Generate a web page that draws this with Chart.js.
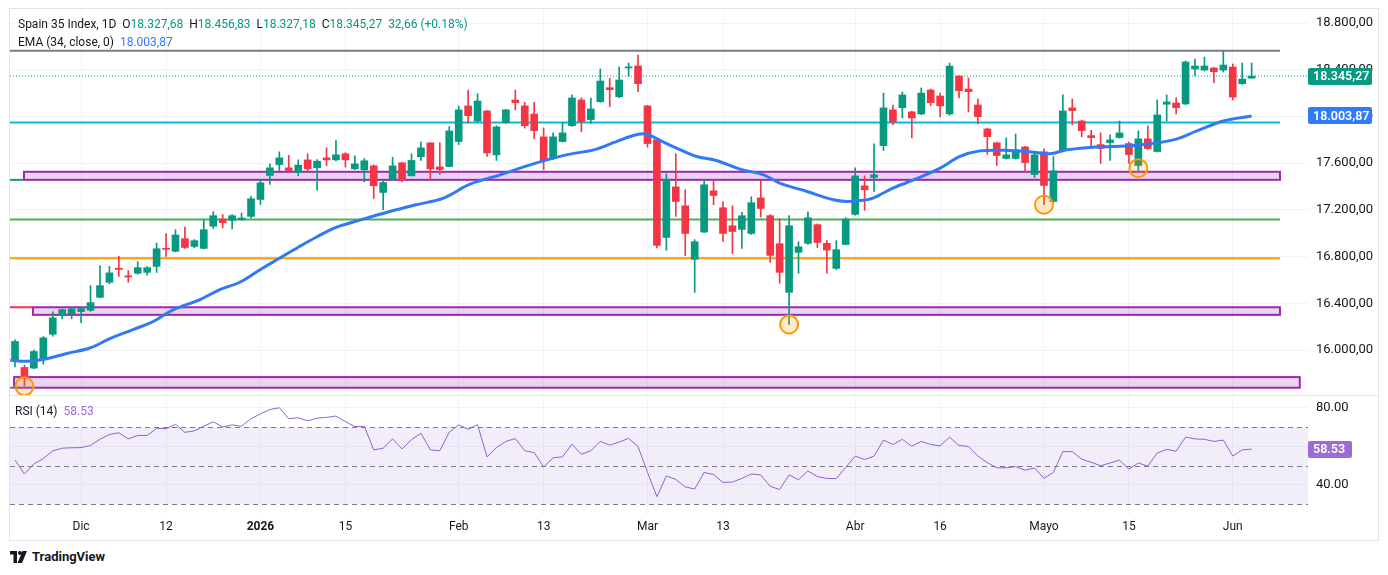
<!DOCTYPE html>
<html>
<head>
<meta charset="utf-8">
<script src="https://cdn.jsdelivr.net/npm/chart.js@4.4.1/dist/chart.umd.min.js"></script>
<style>
  html, body { margin: 0; padding: 0; background: #fff; }
  body { width: 1388px; height: 575px; position: relative; overflow: hidden; font-family: Roboto, "Noto Sans", sans-serif; color: #131722; }
  canvas { position: absolute; left: 0; }
  #main { top: 0; }
  #rsi { top: 396px; }
  #frame { position: absolute; left: 9px; top: 8px; width: 1370px; height: 533px; border: 1px solid #e0e3eb; box-sizing: border-box; pointer-events: none; }
  #sep { position: absolute; left: 10px; top: 395px; width: 1368px; height: 1px; background: #e0e3eb; }
  .legend { position: absolute; left: 18px; font-size: 12px; white-space: pre; }
  .g { color: #089981; }
  .b { color: #2f7cf6; }
  .p { color: #9b6cd6; }
  #logo { position: absolute; left: 10px; top: 549px; font-size: 13px; font-weight: 700; display: flex; align-items: center; gap: 4px; }
</style>
</head>
<body>
<canvas id="main" width="1388" height="396"></canvas>
<canvas id="rsi" width="1388" height="150"></canvas>
<div id="frame"></div>
<div id="sep"></div>
<div class="legend" style="top:17px">Spain 35 Index, 1D  O<span class="g">18.327,68</span>  H<span class="g">18.456,83</span>  L<span class="g">18.327,18</span>  C<span class="g">18.345,27</span>  <span class="g">32,66 (+0.18%)</span></div>
<div class="legend" style="top:35px">EMA (34, close, 0)  <span class="b">18.003,87</span></div>
<div class="legend" style="top:404px; left:15px">RSI (14)  <span class="p">58.53</span></div>
<div id="logo">
  <svg width="18" height="12" viewBox="0 0 18 12"><path d="M0 0h7v12H3.5V3.5H0z" fill="#131722"/><circle cx="10" cy="2" r="2" fill="#131722"/><path d="M12.5 0H17L12 12H7.5z" fill="#131722"/></svg>
  <span>TradingView</span>
</div>
<script>
// daily candles
const candleOpen = [15913,15850,15845,15919,16135,16301,16310,16329,16340,16451,
16580,16700,16635,16657,16665,16716,16870,16845,16953,16887,
16870,17060,17121,17110,17115,17144,17289,17494,17588,17560,
17520,17628,17560,17645,17628,17680,17551,17543,17577,17349,
17463,17603,17491,17654,17774,17568,17571,17785,18090,17961,
18047,17671,17947,18141,18090,18021,17825,17640,17785,17921,
18141,17973,18126,18246,18169,18415,18432,18090,17800,16964,
17397,17235,16776,17010,17363,17218,17064,17033,16998,17303,
17150,16910,16494,16836,16913,17073,16913,16699,16904,17161,
17406,17477,17750,18056,18075,18039,18021,18226,18175,18021,
18346,18235,18098,17893,17774,17640,17640,17739,17503,17697,
17272,17708,18073,17961,17836,17759,17776,17819,17768,17580,
17808,17699,18104,18115,18107,18406,18397,18415,18397,18423,
18280,18327.68];
const candleHigh = [16087,15870,16000,16115,16327,16350,16360,16360,16551,16722,
16716,16802,16680,16756,16715,16916,16996,17030,17053,16945,
17115,17184,17160,17160,17173,17315,17457,17594,17697,17668,
17628,17680,17630,17731,17793,17690,17662,17640,17585,17450,
17651,17610,17680,17782,17774,17774,17913,18090,18226,18195,
18050,17920,18060,18226,18120,18121,17902,17859,17944,18184,
18160,18158,18406,18326,18423,18457,18525,18095,17810,17509,
17680,17372,16944,17457,17457,17269,17235,17178,17312,17457,
17160,17124,17150,16927,17184,17080,16936,16936,17132,17560,
17491,17765,18201,18098,18209,18045,18244,18235,18200,18457,
18350,18329,18149,17900,17780,17816,17850,17745,17691,17722,
17657,18184,18149,17970,17882,17859,17842,17961,17780,17876,
17919,18141,18184,18160,18475,18491,18508,18420,18560,18449,
18457,18456.83];
const candleLow = [15856,15690,15840,15880,16118,16267,16267,16233,16330,16445,
16566,16631,16580,16650,16640,16665,16802,16840,16870,16875,
16865,17041,17046,17036,17110,17130,17246,17417,17537,17530,
17491,17528,17366,17577,17620,17566,17545,17440,17297,17201,
17455,17440,17491,17623,17463,17503,17571,17759,17942,17955,
17657,17623,17940,18056,17900,17808,17545,17630,17780,17915,
17868,17940,18120,18084,18160,18343,18212,17737,16874,16853,
17144,16808,16494,17005,17244,16930,16825,16870,16990,17138,
16750,16571,16218,16657,16905,16876,16657,16690,16900,17155,
17195,17357,17708,17930,17987,17816,18015,18092,17996,18010,
18158,18038,17936,17674,17580,17635,17635,17528,17477,17244,
17265,17700,17927,17825,17750,17597,17623,17815,17597,17528,
17720,17695,17961,18021,18100,18349,18390,18289,18380,18141,
18275,18327.18];
const candleClose = [16073,15770,15987,16104,16275,16346,16353,16354,16406,16551,
16660,16690,16625,16705,16705,16867,16862,16985,16878,16936,
17030,17150,17090,17150,17130,17295,17432,17560,17645,17537,
17583,17551,17617,17628,17671,17628,17594,17620,17406,17434,
17577,17457,17623,17731,17551,17545,17876,18056,18007,18132,
17688,17910,18056,18118,17921,17879,17623,17825,17859,18158,
17956,18064,18303,18229,18312,18425,18280,17768,16896,17463,
17272,16998,16927,17415,17323,16998,17015,17150,17261,17212,
16810,16665,17064,16884,17132,16921,16856,16859,17121,17491,
17372,17500,18073,17953,18184,17987,18200,18118,18090,18431,
18221,18212,17998,17827,17665,17671,17714,17605,17671,17409,
17534,18047,18050,17879,17819,17725,17799,17859,17674,17808,
17725,18013,18124,18075,18466,18432,18432,18383,18440,18166,
18320,18345.27];

// EMA(34) line: bar index / value
const emaIndex = [-0.5,1.2,3,5.5,8,10,12.5,14.7,16.8,19.6,21.7,23.8,26,28,30,32,34,36.9,39.7,42.5,45.4,48.2,51.4,54.9,58.4,61.3,63.7,65.8,66.9,68.7,70.2,72.2,74.3,76.8,79.3,81,83.9,86.7,88.1,89.5,90.9,93,95.2,98,100.1,102.2,105.4,107.9,109.6,111.4,113.9,116.3,119.2,122.7,125.2,128,131];
const emaValues = [15913,15904,15919,15970,16019,16096,16175,16246,16346,16432,16517,16580,16690,16785,16880,16970,17050,17121,17186,17244,17301,17420,17500,17594,17671,17714,17785,17843,17848,17780,17725,17657,17623,17549,17500,17429,17357,17286,17272,17280,17301,17386,17457,17557,17657,17705,17708,17694,17680,17714,17735,17742,17756,17799,17876,17961,18004];

// RSI(14), one value per bar
const rsiValues = [52.8,45.6,50.8,53.6,57.6,59,59.2,59.3,60.4,63.6,
66.1,67,63.8,65.6,65.6,69.3,69.1,71.4,67.2,68,
70.4,72.7,70,71.1,70.4,74.3,76.8,79.1,80,74.3,
74.8,73.2,74.6,75,75.7,72.8,70.2,70.4,58.1,59,
63.8,58.6,63.4,66.8,58.1,57.7,67.3,71.1,68.8,71.2,
54.5,59.3,62.5,64,57.7,56.7,49.2,54,54.5,61.1,
55.8,57.7,62.5,60.6,62.2,64.1,59.9,46.5,33.8,44.6,
42.8,38.9,37.8,46.4,45.3,41.2,41.4,43.3,45.6,45.1,
39.2,37.5,45.1,42.6,47.2,44.2,43.3,43.2,49,54.9,
53.1,54.9,63.2,60.9,63.6,60,62.5,60.9,60.2,64.7,
60.4,59.9,54.9,51.5,48.8,48.8,49.4,47.6,48.7,43.3,
46.4,57.2,57.2,53.3,51.7,49.9,51.3,52.8,48.1,51.3,
49.7,56.5,58.4,57.4,64.7,63.8,63.6,62.5,63.2,54.9,
58.1,58.53];

const dateTickIndex = [7,16,26,35,47,56,67,75,89,98,109,118,129];
const dateTickLabels = ['Dic','12','2026','15','Feb','13','Mar','13','Abr','16','Mayo','15','Jun'];
const priceTicks = [16000,16400,16800,17200,17600,18000,18400,18800];
const rsiTicks = [40,60,80];
const rsiBands = [70,50,30];

// drawings
const levelPrices = [18562,17947,17118,16785];
const levelEnd = 134;
const stubPrices = [17457,16366,15677];
const stubEnd = [0.95,1.9,-0.1];
const zoneStart = [0.95,1.9,-0.1];
const zoneEnd = [134,134,136.1];
const zoneLow = [17457,16301,15677];
const zoneHigh = [17526,16366,15768];
const markerIndex = [1,82,109,119];
const markerPrice = [15690,16218,17244,17557];

const lastClose = 18345.27;
const lastEma = 18003.87;
const lastRsi = 58.53;

const UP = '#089981', DOWN = '#f23645';
const GRID = '#f0f3fa';
const xMin = -0.53, xMax = 136.97;
const levelColors = ['#787b86','#00bcd4','#4caf50','#ff9800'];
const stubColors = ['#089981','#f23645','#787b86'];

Chart.defaults.font.family = 'Roboto, "Noto Sans", sans-serif';
Chart.defaults.color = '#131722';

function fmtPrice(v) {
  const parts = v.toFixed(2).split('.');
  return parts[0].replace(/\B(?=(\d{3})+(?!\d))/g, '.') + ',' + parts[1];
}
function dateLabel(v) {
  const k = dateTickIndex.indexOf(v);
  return k < 0 ? '' : dateTickLabels[k];
}
function drawTag(ctx, left, y, w, text, bg) {
  const h = 17;
  ctx.fillStyle = bg;
  ctx.beginPath();
  ctx.roundRect(left, Math.round(y - h / 2), w, h, 2);
  ctx.fill();
  ctx.fillStyle = '#fff';
  ctx.font = '600 12.5px Roboto, sans-serif';
  ctx.textBaseline = 'middle';
  ctx.textAlign = 'left';
  ctx.fillText(text, left + 5, Math.round(y) + 1);
}
// keep chart areas fixed: no extra room for edge labels
function noPadV(s, w) { s.width = w; s.paddingTop = 0; s.paddingBottom = 0; }
function noPadH(s, h) { s.height = h; s.paddingLeft = 0; s.paddingRight = 0; }

const colors = candleClose.map((c, i) => c >= candleOpen[i] ? UP : DOWN);
const xAxisBase = {
  type: 'linear', min: xMin, max: xMax, offset: false,
  afterBuildTicks: s => { s.ticks = dateTickIndex.map(v => ({ value: v })); },
  grid: { color: GRID, drawTicks: false, offset: false },
  border: { display: false }
};

const zonePlugin = {
  id: 'zones',
  beforeDatasetsDraw(chart) {
    const { ctx, chartArea, scales: { x, y } } = chart;
    ctx.save();
    ctx.beginPath();
    ctx.rect(chartArea.left, chartArea.top, chartArea.width, chartArea.height);
    ctx.clip();
    zoneLow.forEach((lo, k) => {
      const x0 = x.getPixelForValue(zoneStart[k]), x1 = x.getPixelForValue(zoneEnd[k]);
      const y0 = y.getPixelForValue(zoneHigh[k]), y1 = y.getPixelForValue(lo);
      ctx.fillStyle = 'rgba(156,39,176,0.2)';
      ctx.fillRect(x0, y0, x1 - x0, y1 - y0);
      ctx.strokeStyle = '#9c27b0';
      ctx.lineWidth = 2;
      ctx.strokeRect(x0, y0, x1 - x0, y1 - y0);
    });
    ctx.restore();
  },
  afterDraw(chart) {
    const { ctx, chartArea, scales: { y } } = chart;
    drawTag(ctx, chartArea.right, y.getPixelForValue(lastClose), 64, fmtPrice(lastClose), UP);
    drawTag(ctx, chartArea.right, y.getPixelForValue(lastEma), 64, fmtPrice(lastEma), '#2f7cf6');
  }
};

const lineSet = (pts, color, width, dash) => ({
  type: 'line', data: pts, borderColor: color, borderWidth: width,
  borderDash: dash || [], pointRadius: 0, tension: 0, order: 6
});

const datasets = [
  { type: 'bar', data: candleLow.map((lo, i) => ({ x: i, y: [lo, candleHigh[i]] })),
    backgroundColor: colors, barThickness: 1, grouped: false, order: 4 },
  { type: 'bar', data: candleOpen.map((o, i) => ({ x: i, y: [o, candleClose[i]] })),
    backgroundColor: colors, barThickness: 7, minBarLength: 1, grouped: false, order: 3 },
  { type: 'line', data: emaIndex.map((v, k) => ({ x: v, y: emaValues[k] })),
    borderColor: '#3179f5', borderWidth: 3, pointRadius: 0, tension: 0.35, order: 2 },
  { type: 'line', data: markerIndex.map((v, k) => ({ x: v, y: markerPrice[k] })),
    showLine: false, pointRadius: 9, pointBorderWidth: 2, pointBorderColor: '#ff9800',
    pointBackgroundColor: 'rgba(255,152,0,0.2)', order: 1 },
  lineSet([{ x: xMin, y: lastClose }, { x: xMax, y: lastClose }], UP, 1, [1, 2])
];
levelPrices.forEach((p, k) => datasets.push(lineSet([{ x: xMin, y: p }, { x: levelEnd, y: p }], levelColors[k], 2)));
stubPrices.forEach((p, k) => datasets.push(lineSet([{ x: xMin, y: p }, { x: stubEnd[k], y: p }], stubColors[k], 2)));

new Chart(document.getElementById('main'), {
  type: 'bar',
  data: { datasets },
  options: {
    responsive: false, animation: false,
    layout: { autoPadding: false, padding: { left: 10, top: 9, right: 0, bottom: 1 } },
    plugins: { legend: { display: false }, tooltip: { enabled: false } },
    scales: {
      x: Object.assign({}, xAxisBase, { ticks: { display: false }, afterFit: s => noPadH(s, 0) }),
      y: {
        position: 'right', min: 15614.7, max: 18919.9,
        afterBuildTicks: s => { s.ticks = priceTicks.map(v => ({ value: v })); },
        afterFit: s => noPadV(s, 80),
        grid: { color: GRID, drawTicks: false },
        border: { display: false },
        ticks: { padding: 8, font: { size: 13 }, callback: v => fmtPrice(v) }
      }
    }
  },
  plugins: [zonePlugin]
});

const rsiPlugin = {
  id: 'rsiBand',
  beforeDatasetsDraw(chart) {
    const { ctx, chartArea, scales: { y } } = chart;
    const yTop = y.getPixelForValue(rsiBands[0]), yBot = y.getPixelForValue(rsiBands[2]);
    ctx.save();
    ctx.fillStyle = 'rgba(126,87,194,0.1)';
    ctx.fillRect(chartArea.left, yTop, chartArea.width, yBot - yTop);
    ctx.strokeStyle = '#787b86';
    ctx.lineWidth = 1;
    ctx.setLineDash([5, 4]);
    rsiBands.forEach(b => {
      const yy = Math.round(y.getPixelForValue(b)) + 0.5;
      ctx.beginPath();
      ctx.moveTo(chartArea.left, yy);
      ctx.lineTo(chartArea.right, yy);
      ctx.stroke();
    });
    ctx.restore();
  },
  afterDraw(chart) {
    const { ctx, chartArea, scales: { y } } = chart;
    drawTag(ctx, chartArea.right, y.getPixelForValue(lastRsi), 44, lastRsi.toFixed(2), '#9b6cd6');
  }
};

new Chart(document.getElementById('rsi'), {
  type: 'line',
  data: {
    datasets: [{
      data: rsiValues.map((v, i) => ({ x: i, y: v })),
      borderColor: '#8e62cf', borderWidth: 1, pointRadius: 0, tension: 0
    }]
  },
  options: {
    responsive: false, animation: false,
    layout: { autoPadding: false, padding: { left: 10, top: 2, right: 0, bottom: 0 } },
    plugins: { legend: { display: false }, tooltip: { enabled: false } },
    scales: {
      x: Object.assign({}, xAxisBase, {
        afterFit: s => noPadH(s, 31),
        ticks: {
          padding: 5, autoSkip: false, maxRotation: 0,
          font: ctx => ({ size: 12, weight: ctx.tick && dateLabel(ctx.tick.value) === '2026' ? 'bold' : 'normal' }),
          callback: v => dateLabel(v)
        }
      }),
      y: {
        position: 'right', min: 24.29, max: 85.06,
        afterBuildTicks: s => { s.ticks = rsiTicks.map(v => ({ value: v })); },
        afterFit: s => noPadV(s, 80),
        grid: { color: GRID, drawTicks: false },
        border: { display: false },
        // the 60 label sits under the value tag, so leave it blank
        ticks: { padding: 8, font: { size: 13 }, callback: v => v === 60 ? '' : v.toFixed(2) }
      }
    }
  },
  plugins: [rsiPlugin]
});
</script>
</body>
</html>
